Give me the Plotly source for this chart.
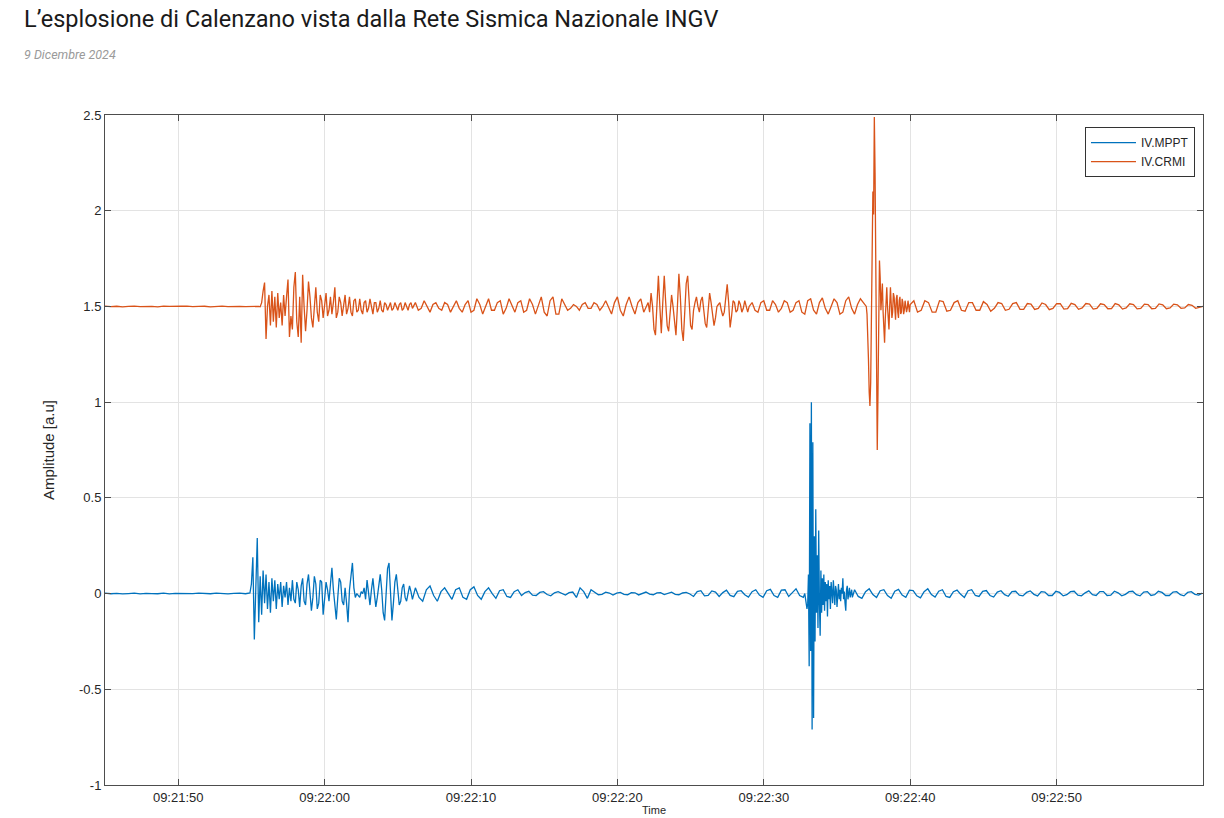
import plotly.graph_objects as go
import pandas as pd

# ---------------- data (amplitude, arbitrary units) ----------------
# time axis origin: 2024-12-09 09:21:45 ; each segment = (start seconds, step seconds, samples)
start_time = "2024-12-09 09:21:45"

# IV.MPPT (blue)
mppt_quiet_t0, mppt_quiet_dt = 0.0, 0.4
mppt_quiet = [0.002, -0.001, 0.001, -0.002, 0.000, 0.002, -0.002, 0.001, 0.000, -0.001,
              0.002, -0.002, 0.001, 0.001, -0.002, 0.000, 0.002, -0.001, -0.001, 0.002,
              0.000, -0.002, 0.001, 0.002, -0.001]

mppt_burst1_t0, mppt_burst1_dt = 9.8, 0.1
mppt_burst1 = [0.0, 0.003, 0.05, 0.19, -0.24, 0.10, 0.29, -0.15, 0.09, -0.11,
               0.12, -0.05, 0.10, -0.08, 0.06, -0.10, 0.08, -0.04, 0.07, -0.08,
               0.05, -0.03, 0.06, -0.07, 0.04, -0.02, 0.06, -0.06, 0.03, -0.04,
               0.07, -0.03, -0.05, 0.06, 0.02, -0.07, 0.04, 0.08, -0.04, -0.06,
               0.05, 0.10, 0.01, -0.09, -0.02, 0.09, 0.05, -0.08, -0.05, 0.07,
               0.06, -0.11, -0.03, 0.06, 0.02, -0.04, 0.05, 0.135, 0.02, -0.08,
               -0.135, -0.02, 0.08, 0.06, -0.04, -0.06, 0.03, -0.05, -0.15, 0.02,
               0.10, 0.16, 0.03, -0.02, 0.00, -0.01, -0.02, 0.01, 0.00, 0.03,
               -0.03, 0.07, 0.01, -0.06, 0.02, 0.08, 0.00, -0.07, -0.02, 0.05,
               0.10, 0.02, -0.10, -0.14, 0.02, 0.13, 0.16, -0.02, -0.14, -0.05,
               0.06, 0.10, 0.02, -0.06, -0.04, 0.03, 0.05, -0.02, -0.04, 0.01,
               0.04, 0.01, -0.03]

mppt_coda1_t0, mppt_coda1_dt = 21.2, 0.25
mppt_coda1 = [0.03, -0.02, -0.04, 0.02, 0.04, -0.01, -0.04, 0.01, 0.03, 0.00, -0.03,
              0.02, 0.03, -0.02, -0.03, 0.02, 0.035, -0.01, -0.03, 0.01, 0.03, 0.00,
              -0.025, 0.015, 0.02, -0.015, -0.02, 0.01, 0.02,
              -0.01, 0.005, 0.012, -0.008, -0.01, 0.006, 0.01, -0.005, -0.012, 0.004,
              0.01, 0.002, -0.008, 0.005, 0.008,
              -0.02, 0.03, 0.01, -0.025, 0.02,
              0.008, -0.006, -0.004, 0.007, 0.003, -0.008, 0.002, 0.006, -0.004, -0.006,
              0.005, 0.004, -0.007, 0.001, 0.008, -0.003, -0.006, 0.004, 0.005, -0.005,
              0.000, 0.007, -0.004, -0.006, 0.003, 0.006, -0.002,
              -0.015, 0.01, 0.015, -0.012, -0.01, 0.014, 0.008, -0.015, 0.005, 0.018,
              -0.01, -0.016, 0.012, 0.015, -0.006, -0.018, 0.01, 0.02, -0.008, -0.02,
              0.015, 0.022, -0.01, -0.02, 0.018, 0.02, -0.015, 0.005, 0.025, -0.01, -0.02]

mppt_blast_t0, mppt_blast_dt = 47.8, 0.05
mppt_blast = [0.00, -0.02, -0.06, -0.08, -0.05, 0.10, -0.38, 0.89, -0.30, 1.00,
              -0.71, 0.79, -0.65, 0.30, -0.25, 0.44, -0.10, 0.20, -0.18, 0.33,
              -0.05, -0.22, 0.12, -0.10, 0.08, -0.06, 0.10, -0.09, 0.06, -0.04,
              0.05, -0.12, 0.07, -0.03, 0.04, -0.08, 0.06, 0.01, -0.05, 0.07,
              -0.02, -0.06, 0.04, 0.02, -0.07, 0.03, 0.05, -0.03, 0.02, -0.04,
              0.03, 0.00, 0.08, -0.03, 0.01, -0.05, -0.09, 0.02, 0.04, -0.03,
              0.01, 0.03, -0.02, 0.01, 0.02, -0.02]

mppt_coda2_t0, mppt_coda2_dt = 51.2, 0.25
mppt_coda2 = [0.02, -0.015, -0.025, 0.01, 0.025, -0.005, -0.02, 0.015, 0.02, -0.01,
              -0.025, 0.012, 0.022, -0.008, -0.02, 0.018, 0.015, -0.012, -0.022, 0.01,
              0.025, -0.005, -0.018, 0.012, 0.02, -0.015, -0.02, 0.01, 0.018, -0.004,
              -0.02, 0.015, 0.02, -0.01, -0.015, 0.012, 0.016, -0.01, -0.018, 0.008,
              0.015, -0.006, -0.014, 0.01, 0.012, -0.008, -0.012, 0.006, 0.014, -0.004,
              -0.012, 0.01, 0.008, -0.01, -0.01, 0.012, 0.006, -0.012, -0.006, 0.01,
              0.012, -0.008, -0.012, 0.004, 0.014, -0.006, -0.01, 0.01, 0.01, -0.01,
              -0.008, 0.012, 0.004, -0.012, -0.004, 0.01, 0.012, -0.006, -0.012, 0.008,
              0.01, -0.01, -0.006, 0.012, 0.006, -0.01, -0.01, 0.008, 0.01, -0.006,
              -0.012, 0.006, 0.01, -0.004, -0.008, 0.002]

# IV.CRMI (orange), plotted with an offset of +1.5
crmi_quiet_t0, crmi_quiet_dt = 0.0, 0.4
crmi_quiet = [1.502, 1.499, 1.501, 1.498, 1.500, 1.502, 1.499, 1.501, 1.500, 1.498,
              1.502, 1.500, 1.499, 1.501, 1.502, 1.499, 1.500, 1.501, 1.498, 1.500,
              1.502, 1.499, 1.501, 1.500, 1.499, 1.501, 1.500]

crmi_burst1_t0, crmi_burst1_dt = 10.5, 0.1
crmi_burst1 = [1.500, 1.498, 1.52, 1.58, 1.625, 1.33, 1.50, 1.56, 1.40, 1.58,
               1.42, 1.55, 1.39, 1.57, 1.44, 1.52, 1.40, 1.56, 1.45, 1.55,
               1.64, 1.34, 1.45, 1.38, 1.60, 1.68, 1.42, 1.34, 1.55, 1.31,
               1.665, 1.50, 1.37, 1.48, 1.63, 1.55, 1.44, 1.39, 1.52, 1.60,
               1.47, 1.42, 1.56, 1.53, 1.44, 1.50, 1.57, 1.45, 1.48, 1.55,
               1.46, 1.52, 1.60, 1.44, 1.47, 1.55, 1.52, 1.45, 1.51, 1.56,
               1.46, 1.49, 1.55, 1.47, 1.45, 1.53, 1.54, 1.47, 1.48, 1.54,
               1.48, 1.46, 1.52, 1.53, 1.47, 1.49, 1.54, 1.49, 1.46, 1.52,
               1.52, 1.47, 1.49, 1.53, 1.48, 1.47, 1.52, 1.51, 1.48, 1.50,
               1.52, 1.48, 1.49, 1.52, 1.50, 1.48, 1.51, 1.52, 1.48, 1.49,
               1.52, 1.50, 1.48, 1.51, 1.52, 1.49]

crmi_coda1_t0, crmi_coda1_dt = 21.2, 0.2
crmi_coda1 = [1.52, 1.48, 1.49, 1.53, 1.50, 1.47, 1.51, 1.52, 1.49, 1.48,
              1.52, 1.51, 1.47, 1.50, 1.53, 1.49, 1.47, 1.51, 1.53, 1.47,
              1.48, 1.54, 1.51, 1.46, 1.50, 1.54, 1.48, 1.48, 1.52, 1.53,
              1.46, 1.49, 1.54, 1.50, 1.47, 1.52, 1.53, 1.47, 1.48, 1.54,
              1.51, 1.46, 1.50, 1.55, 1.47, 1.45, 1.53, 1.55, 1.46, 1.46,
              1.54, 1.51, 1.48, 1.49, 1.51, 1.50, 1.48, 1.51, 1.52, 1.49,
              1.49, 1.52, 1.51, 1.48, 1.50, 1.53, 1.49, 1.46, 1.52, 1.55,
              1.48, 1.45, 1.51, 1.55, 1.50, 1.46, 1.52, 1.54, 1.47]

crmi_burst2_t0, crmi_burst2_dt = 37.0, 0.1
crmi_burst2 = [1.50, 1.52, 1.47, 1.57, 1.50, 1.38, 1.35, 1.52, 1.66, 1.50,
               1.36, 1.52, 1.66, 1.52, 1.40, 1.37, 1.48, 1.56, 1.50, 1.40,
               1.35, 1.50, 1.67, 1.55, 1.38, 1.32, 1.45, 1.62, 1.66, 1.52,
               1.40, 1.38, 1.48, 1.52, 1.55, 1.50, 1.47, 1.53, 1.55, 1.48,
               1.41, 1.39, 1.50, 1.57, 1.52, 1.44, 1.40, 1.44, 1.50, 1.51,
               1.52, 1.48, 1.45, 1.47, 1.55, 1.615, 1.52, 1.39, 1.45, 1.53,
               1.52, 1.47, 1.48, 1.53, 1.51, 1.47, 1.49, 1.53, 1.50, 1.47,
               1.50]

crmi_coda2_t0, crmi_coda2_dt = 44.2, 0.2
crmi_coda2 = [1.52, 1.48, 1.47, 1.52, 1.53, 1.48, 1.48, 1.53, 1.51, 1.47,
              1.49, 1.53, 1.52, 1.47, 1.48, 1.52, 1.53,
              1.47, 1.46, 1.53, 1.54, 1.48, 1.46, 1.52, 1.545, 1.49, 1.46,
              1.50, 1.54, 1.52, 1.46, 1.47, 1.53, 1.55, 1.49, 1.46, 1.51, 1.54, 1.52]

crmi_blast_t0, crmi_blast_dt = 52.0, 0.05
crmi_blast = [1.50, 1.46, 1.38, 1.22, 1.05, 0.98, 1.10, 1.55, 1.90, 2.10,
              1.98, 2.49, 2.20, 1.50, 0.95, 0.75, 1.05, 1.45, 1.74, 1.65,
              1.48, 1.55, 1.62, 1.47, 1.36, 1.31, 1.44, 1.58, 1.60, 1.50,
              1.40, 1.38, 1.50, 1.60, 1.52, 1.44, 1.47, 1.57, 1.55, 1.45,
              1.43, 1.54, 1.56, 1.47, 1.44, 1.53, 1.55, 1.46, 1.47, 1.54,
              1.52, 1.46, 1.48, 1.53, 1.51, 1.47, 1.49, 1.53, 1.50, 1.47, 1.51]

crmi_coda3_t0, crmi_coda3_dt = 55.25, 0.25
crmi_coda3 = [1.53, 1.47, 1.48, 1.53, 1.52, 1.47, 1.47, 1.53, 1.525, 1.475,
              1.48, 1.52, 1.53, 1.48, 1.475, 1.52, 1.52, 1.48, 1.48, 1.525,
              1.51, 1.475, 1.49, 1.52, 1.515, 1.48, 1.485,
              1.515, 1.52, 1.485, 1.485, 1.515, 1.512, 1.484, 1.49, 1.518, 1.51,
              1.483, 1.49, 1.515, 1.514, 1.486, 1.488, 1.516, 1.51, 1.485, 1.492,
              1.515, 1.512, 1.486, 1.49, 1.514, 1.51, 1.488, 1.489, 1.515, 1.508,
              1.486, 1.492, 1.514, 1.51, 1.487, 1.49, 1.512, 1.51, 1.488, 1.49,
              1.513, 1.508, 1.488, 1.492, 1.512, 1.508, 1.49, 1.492, 1.51, 1.506,
              1.49, 1.494, 1.5]

series_names = ["IV.MPPT", "IV.CRMI"]
series_colors = ["#0072BD", "#D95319"]
y_tick_vals = [-1, -0.5, 0, 0.5, 1, 1.5, 2, 2.5]
y_tick_text = ["-1", "-0.5", "0", "0.5", "1", "1.5", "2", "2.5"]
x_tick_labels = ["09:21:50", "09:22:00", "09:22:10", "09:22:20", "09:22:30", "09:22:40", "09:22:50"]

mppt_segments = [(mppt_quiet_t0, mppt_quiet_dt, mppt_quiet),
                 (mppt_burst1_t0, mppt_burst1_dt, mppt_burst1),
                 (mppt_coda1_t0, mppt_coda1_dt, mppt_coda1),
                 (mppt_blast_t0, mppt_blast_dt, mppt_blast),
                 (mppt_coda2_t0, mppt_coda2_dt, mppt_coda2)]
crmi_segments = [(crmi_quiet_t0, crmi_quiet_dt, crmi_quiet),
                 (crmi_burst1_t0, crmi_burst1_dt, crmi_burst1),
                 (crmi_coda1_t0, crmi_coda1_dt, crmi_coda1),
                 (crmi_burst2_t0, crmi_burst2_dt, crmi_burst2),
                 (crmi_coda2_t0, crmi_coda2_dt, crmi_coda2),
                 (crmi_blast_t0, crmi_blast_dt, crmi_blast),
                 (crmi_coda3_t0, crmi_coda3_dt, crmi_coda3)]

base = pd.Timestamp(start_time)


def build(segments):
    xs, ys = [], []
    for t0, dt, vals in segments:
        for i, v in enumerate(vals):
            xs.append(base + pd.Timedelta(seconds=round(t0 + dt * i, 4)))
            ys.append(v)
    return xs, ys


fig = go.Figure()
for name, color, segs in zip(series_names, series_colors, [mppt_segments, crmi_segments]):
    xs, ys = build(segs)
    fig.add_trace(go.Scatter(x=xs, y=ys, mode="lines", name=name,
                             line=dict(color=color, width=1.3)))

x_tick_vals = [pd.Timestamp("2024-12-09 " + s) for s in x_tick_labels]

axis_col = "#4d4d4d"
fig.update_layout(
    width=1224, height=818,
    margin=dict(l=105, r=21, t=115, b=33, autoexpand=False),
    paper_bgcolor="white", plot_bgcolor="white",
    font=dict(family="Liberation Sans, Arial, sans-serif", size=13, color="#262626"),
    showlegend=True,
    legend=dict(x=0.9927, y=0.982, xanchor="right", yanchor="top",
                bgcolor="white", bordercolor="#333333", borderwidth=1,
                font=dict(size=12, color="#262626"), tracegroupgap=0,
                itemwidth=45),
    xaxis=dict(range=[base, base + pd.Timedelta(seconds=75)],
               tickvals=x_tick_vals, ticktext=x_tick_labels,
               showgrid=True, gridcolor="#e3e3e3", gridwidth=1,
               showline=True, linecolor=axis_col, linewidth=1, mirror="ticks",
               ticks="inside", ticklen=6, tickcolor=axis_col,
               zeroline=False, tickfont=dict(size=13, color="#262626")),
    yaxis=dict(range=[-1, 2.5], tickvals=y_tick_vals, ticktext=y_tick_text,
               showgrid=True, gridcolor="#e3e3e3", gridwidth=1,
               showline=True, linecolor=axis_col, linewidth=1, mirror="ticks",
               ticks="inside", ticklen=6, tickcolor=axis_col,
               zeroline=False, tickfont=dict(size=13, color="#262626"),
               title=dict(text="Amplitude [a.u]", font=dict(size=15, color="#262626"),
                          standoff=20)),
    annotations=[
        dict(text="L\u2019esplosione di Calenzano vista dalla Rete Sismica Nazionale INGV",
             xref="paper", yref="paper", x=-0.0756, y=1.143, xanchor="left", yanchor="middle",
             showarrow=False, font=dict(family="Roboto", size=23.5, color="#1a1a1a")),
        dict(text="<i>9 Dicembre 2024</i>",
             xref="paper", yref="paper", x=-0.0756, y=1.091, xanchor="left", yanchor="middle",
             showarrow=False, font=dict(family="Roboto", size=12.5, color="#9a9a9a")),
        dict(text="Time", xref="paper", yref="paper", x=0.5, y=-0.0493,
             xanchor="center", yanchor="bottom", showarrow=False,
             font=dict(size=11, color="#262626")),
    ],
)

fig.write_html("out.html")
